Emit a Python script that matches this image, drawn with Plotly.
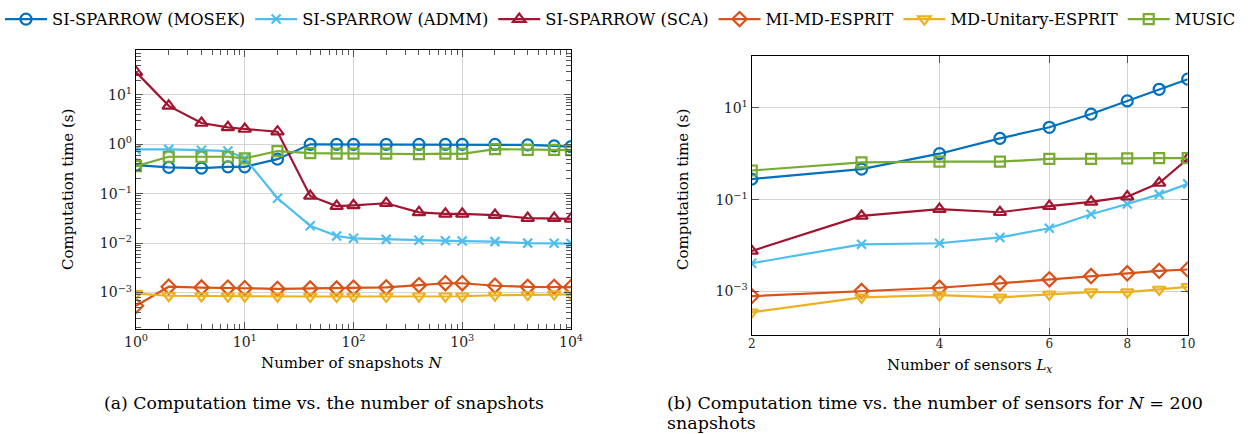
import plotly.graph_objects as go

# ---------------- data: (a) time vs number of snapshots ----------------
snapshots = [1, 2, 4, 7, 10, 20, 40, 70, 100, 200, 400, 700, 1000, 2000, 4000, 7000, 10000]
a_mosek = [0.38, 0.34, 0.33, 0.35, 0.35, 0.50, 1.0, 1.0, 1.0, 1.0, 1.0, 1.0, 1.0, 1.0, 0.97, 0.93, 0.9]
a_admm = [0.79, 0.79, 0.76, 0.73, 0.52, 0.081, 0.0225, 0.0139, 0.0125, 0.0119, 0.0114, 0.0112, 0.011, 0.0107, 0.0100, 0.0099, 0.0098]
a_sca = [29, 6.0, 2.7, 2.2, 2.04, 1.8, 0.09, 0.056, 0.058, 0.064, 0.042, 0.039, 0.039, 0.037, 0.032, 0.032, 0.031]
a_mimd = [0.00054, 0.00131, 0.00126, 0.00125, 0.00122, 0.00118, 0.0012, 0.0012, 0.00125, 0.00127, 0.00141, 0.00154, 0.00154, 0.00137, 0.0013, 0.0013, 0.00128]
a_unit = [0.00095, 0.00086, 0.00085, 0.00084, 0.00084, 0.00084, 0.00083, 0.00083, 0.00083, 0.00083, 0.00084, 0.00084, 0.00084, 0.00088, 0.0009, 0.00093, 0.00091]
a_music = [0.36, 0.56, 0.56, 0.56, 0.52, 0.73, 0.66, 0.65, 0.65, 0.65, 0.63, 0.65, 0.64, 0.80, 0.77, 0.77, 0.76]

# ---------------- data: (b) time vs number of sensors ----------------
sensors = [2, 3, 4, 5, 6, 7, 8, 9, 10]
b_mosek = [0.28, 0.46, 1.0, 2.16, 3.76, 7.3, 14.1, 25.3, 42]
b_admm = [0.0041, 0.0106, 0.0112, 0.015, 0.0237, 0.048, 0.080, 0.13, 0.22]
b_sca = [0.0076, 0.044, 0.062, 0.053, 0.072, 0.089, 0.116, 0.23, 0.77]
b_mimd = [0.00079, 0.00102, 0.0012, 0.0015, 0.00183, 0.00216, 0.00248, 0.0028, 0.003]
b_unit = [0.00035, 0.00074, 0.00083, 0.00074, 0.00086, 0.00096, 0.00096, 0.0011, 0.00126]
b_music = [0.43, 0.65, 0.67, 0.67, 0.77, 0.77, 0.79, 0.80, 0.80]

names = ["SI-SPARROW (MOSEK)", "SI-SPARROW (ADMM)", "SI-SPARROW (SCA)",
         "MI-MD-ESPRIT", "MD-Unitary-ESPRIT", "MUSIC"]
colors = ["#0072BD", "#4DBEEE", "#A2142F", "#D95319", "#EDB120", "#77AC30"]
symbols = ["circle-open", "x-thin-open", "triangle-up-open", "diamond-open",
           "triangle-down-open", "square-open"]
sizes = [11, 9, 11, 11, 11, 10]

# tick labels
a_xtick_vals = [1, 10, 100, 1000, 10000]
a_xtick_text = ["10<sup>0</sup>", "10<sup>1</sup>", "10<sup>2</sup>", "10<sup>3</sup>", "10<sup>4</sup>"]
a_ytick_vals = [10, 1, 0.1, 0.01, 0.001]
a_ytick_text = ["10<sup>1</sup>", "10<sup>0</sup>", "10<sup>−1</sup>", "10<sup>−2</sup>", "10<sup>−3</sup>"]
b_xtick_vals = [2, 4, 6, 8, 10]
b_xtick_text = ["2", "4", "6", "8", "10"]
b_ytick_vals = [10, 0.1, 0.001]
b_ytick_text = ["10<sup>1</sup>", "10<sup>−1</sup>", "10<sup>−3</sup>"]

SERIF = "DejaVu Serif"
fig = go.Figure()

a_series = [a_mosek, a_admm, a_sca, a_mimd, a_unit, a_music]
b_series = [b_mosek, b_admm, b_sca, b_mimd, b_unit, b_music]

for i in range(6):
    fig.add_trace(go.Scatter(
        x=snapshots, y=a_series[i], name=names[i], mode="lines+markers",
        line=dict(color=colors[i], width=2.2),
        marker=dict(symbol=symbols[i], size=sizes[i], color=colors[i],
                    line=dict(color=colors[i], width=2.2)),
        xaxis="x", yaxis="y", showlegend=True, legendgroup=names[i]))
for i in range(6):
    fig.add_trace(go.Scatter(
        x=sensors, y=b_series[i], name=names[i], mode="lines+markers",
        line=dict(color=colors[i], width=2.2),
        marker=dict(symbol=symbols[i], size=sizes[i], color=colors[i],
                    line=dict(color=colors[i], width=2.2)),
        xaxis="x2", yaxis="y2", showlegend=False, legendgroup=names[i]))

W, H = 1256, 434
def px_x(a, b):
    return [a / W, b / W]
def px_y(top, bottom):
    return [1 - bottom / H, 1 - top / H]

grid = "#d4d4d4"
tickc = "#555555"
common = dict(showline=True, linecolor="black", linewidth=1.2, mirror="allticks",
              ticks="inside", tickcolor=tickc, tickwidth=1, showgrid=True,
              gridcolor=grid, gridwidth=1, zeroline=False, automargin=False,
              tickfont=dict(family=SERIF, size=14, color="#222"))

fig.update_layout(
    width=W, height=H, margin=dict(l=0, r=0, t=0, b=0),
    paper_bgcolor="white", plot_bgcolor="white",
    font=dict(family=SERIF, color="black"),
    legend=dict(orientation="h", x=0.0, y=1 - 2 / H, xanchor="left", yanchor="top",
                font=dict(family=SERIF, size=16.3, color="black"),
                itemwidth=42, tracegroupgap=0, bgcolor="rgba(0,0,0,0)"),
    xaxis=dict(type="log", domain=px_x(136, 571), range=[0, 4], anchor="y",
               tickmode="array", tickvals=a_xtick_vals, ticktext=a_xtick_text, ticklen=7,
               minor=dict(ticks="inside", ticklen=5, dtick="D1", tickcolor=tickc, showgrid=False),
               **common),
    yaxis=dict(type="log", domain=px_y(50, 329), range=[-3.739, 1.909], anchor="x",
               tickmode="array", tickvals=a_ytick_vals, ticktext=a_ytick_text, ticklen=7,
               minor=dict(ticks="inside", ticklen=5, dtick="D1", tickcolor=tickc, showgrid=False),
               **common),
    xaxis2=dict(type="log", domain=px_x(751.7, 1187.7), range=[0.30103, 1], anchor="y2",
                tickmode="array", tickvals=b_xtick_vals, ticktext=b_xtick_text, ticklen=7,
                ticklabelstandoff=-3, **common),
    yaxis2=dict(type="log", domain=px_y(55.7, 335), range=[-3.95, 2.135], anchor="x2",
                tickmode="array", tickvals=b_ytick_vals, ticktext=b_ytick_text, ticklen=7,
                **common),
)
fig.update_xaxes(tickfont_size=12, selector=dict(anchor="y2"))

ann = [
    dict(text="Number of snapshots <i>N</i>", x=352 / W, y=363, size=15, xa="center"),
    dict(text="Number of sensors <i>L<sub>x</sub></i>", x=969 / W, y=365, size=15, xa="center"),
    dict(text="(a) Computation time vs. the number of snapshots", x=324 / W, y=403, size=17.3, xa="center"),
    dict(text="(b) Computation time vs. the number of sensors for <i>N</i> = 200", x=665 / W, y=403, size=17.5, xa="left"),
    dict(text="snapshots", x=665 / W, y=423, size=17.5, xa="left"),
]
for a in ann:
    fig.add_annotation(text=a["text"], x=a["x"], y=1 - a["y"] / H, xref="paper", yref="paper",
                       showarrow=False, xanchor=a["xa"], yanchor="middle",
                       font=dict(family=SERIF, size=a["size"], color="black"))
for xc in [68, 683]:
    fig.add_annotation(text="Computation time (s)", x=xc / W, y=1 - 190 / H, xref="paper",
                       yref="paper", showarrow=False, textangle=-90, xanchor="center",
                       yanchor="middle", font=dict(family=SERIF, size=15, color="black"))

fig.write_html("out.html", config={"displayModeBar": False},
               post_script="document.body.style.margin='0';document.body.style.overflow='hidden';")
